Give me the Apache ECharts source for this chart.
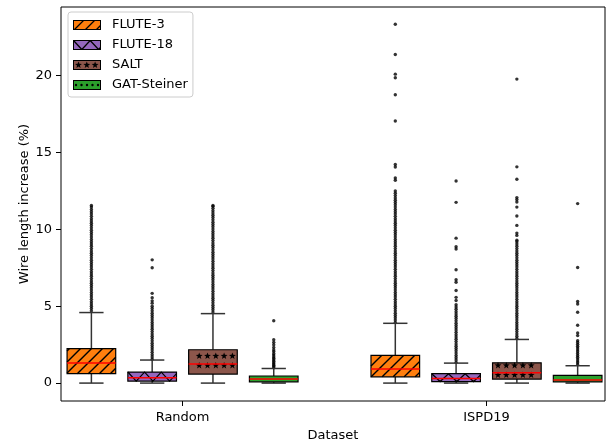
<!DOCTYPE html>
<html><head><meta charset="utf-8">
<script src="https://cdn.jsdelivr.net/npm/echarts@6/dist/echarts.min.js"></script>
<style>html,body{margin:0;padding:0;background:#fff}#c{width:613px;height:445px}</style>
</head><body><div id="c"></div><script>
// ---------------- data ----------------
const datasets = ['Random', 'ISPD19'];
const methods = ['FLUTE-3', 'FLUTE-18', 'SALT', 'GAT-Steiner'];
const yTickValues = [0, 5, 10, 15, 20];

// box statistics per dataset (Random, ISPD19): [lower whisker, Q1, median, Q3, upper whisker]
const flute3Stats  = [[0, 0.61, 1.30, 2.24, 4.59], [0, 0.41, 0.91, 1.80, 3.89]];
const flute18Stats = [[0, 0.13, 0.35, 0.72, 1.50], [0, 0.10, 0.30, 0.61, 1.30]];
const saltStats    = [[0, 0.59, 1.24, 2.17, 4.52], [0, 0.26, 0.67, 1.32, 2.84]];
const gatStats     = [[0, 0.08, 0.26, 0.46, 0.95], [0, 0.08, 0.20, 0.50, 1.13]];

// outliers (fliers)
const flute3RandomFliers = [4.70,4.85,5.00,5.15,5.30,5.45,5.60,5.75,5.90,6.05,6.20,6.35,6.50,6.65,6.80,6.95,7.10,7.25,7.40,7.55,7.70,7.85,8.00,8.15,8.30,8.45,8.60,8.75,8.90,9.05,9.20,9.35,9.50,9.65,9.80,9.95,10.10,10.25,10.40,10.55,10.70,10.85,11.00,11.15,11.30,11.45,11.56];
const flute18RandomFliers = [1.55,1.70,1.85,2.00,2.15,2.30,2.45,2.60,2.75,2.90,3.05,3.20,3.35,3.50,3.65,3.80,3.95,4.10,4.25,4.40,4.55,4.70,4.85,5.00,5.20,5.35,5.55,5.84,7.50,8.02];
const saltRandomFliers = [4.62,4.77,4.92,5.07,5.22,5.37,5.52,5.67,5.82,5.97,6.12,6.27,6.42,6.57,6.72,6.87,7.02,7.17,7.32,7.47,7.62,7.77,7.92,8.07,8.22,8.37,8.52,8.67,8.82,8.97,9.12,9.27,9.42,9.57,9.72,9.87,10.02,10.17,10.32,10.47,10.62,10.77,10.92,11.07,11.22,11.37,11.50,11.56];
const gatRandomFliers = [1.00,1.08,1.16,1.25,1.33,1.42,1.52,1.62,1.72,1.82,1.92,2.05,2.15,2.32,2.50,2.65,2.82,4.06];

const flute3IspdFliers = [3.95,4.10,4.25,4.40,4.55,4.70,4.85,5.00,5.15,5.30,5.45,5.60,5.75,5.90,6.05,6.20,6.35,6.50,6.65,6.80,6.95,7.10,7.25,7.40,7.55,7.70,7.85,8.00,8.15,8.30,8.45,8.60,8.75,8.90,9.05,9.20,9.35,9.50,9.65,9.80,9.95,10.10,10.25,10.40,10.55,10.70,10.85,11.00,11.15,11.30,11.45,11.60,11.75,11.90,12.05,12.20,12.35,12.50,13.20,13.35,14.06,14.22,17.05,18.76,19.87,20.10,21.38,23.35];
const flute18IspdFliers = [1.35,1.50,1.65,1.80,1.95,2.10,2.25,2.40,2.55,2.70,2.85,3.00,3.15,3.30,3.45,3.60,3.75,3.90,4.05,4.20,4.35,4.50,4.65,4.80,4.95,5.10,5.37,5.58,6.02,6.56,6.72,7.37,8.72,8.87,9.43,11.76,13.15];
const saltIspdFliers = [2.90,3.05,3.20,3.35,3.50,3.65,3.80,3.95,4.10,4.25,4.40,4.55,4.70,4.85,5.00,5.15,5.30,5.45,5.60,5.75,5.90,6.05,6.20,6.35,6.50,6.65,6.80,6.95,7.10,7.25,7.40,7.55,7.70,7.85,8.00,8.15,8.30,8.45,8.60,8.75,8.90,9.05,9.20,9.30,9.61,9.76,10.26,10.87,11.45,11.78,11.94,12.07,13.26,14.07,19.78];
const gatIspdFliers = [1.20,1.32,1.44,1.56,1.68,1.80,1.92,2.04,2.16,2.28,2.40,2.52,2.64,2.76,3.09,3.26,3.76,4.61,5.15,5.31,7.52,11.68];

// ---------------- styling / layout ----------------
const allStats = [flute3Stats, flute18Stats, saltStats, gatStats];
const allFliers = [
  [flute3RandomFliers, flute3IspdFliers],
  [flute18RandomFliers, flute18IspdFliers],
  [saltRandomFliers, saltIspdFliers],
  [gatRandomFliers, gatIspdFliers]
];
const colors = ['#ff7f0e', '#9467bd', '#8c564b', '#2ca02c'];
const hatches = ['diag', 'zigzag', 'stars', 'dots'];
const offsets = [-0.3, -0.1, 0.1, 0.3];
const boxWidth = 0.16;

function starPoints(cx, cy, R, r) {
  const pts = [];
  for (let i = 0; i < 10; i++) {
    const a = -Math.PI / 2 + i * Math.PI / 5;
    const rr = i % 2 === 0 ? R : r;
    pts.push([cx + rr * Math.cos(a), cy + rr * Math.sin(a)]);
  }
  return pts;
}

// hatch primitives inside rectangle [x0,x1]x[y0,y1]; (ox, oy) = grid origin
function hatchPrims(kind, x0, y0, x1, y1, ox, oy) {
  const p = [];
  if (kind === 'diag') {
    const S = 11;
    for (let k = Math.ceil((x0 + y0) / S); k * S <= x1 + y1; k++) {
      const c = k * S;
      const xa = Math.max(x0, c - y1), xb = Math.min(x1, c - y0);
      if (xb > xa) p.push({t: 'line', a: [xa, c - xa], b: [xb, c - xb]});
    }
  } else if (kind === 'zigzag') {
    const H = 8.35;
    const pts = [];
    let j = 0;
    while (x0 + j * H <= x1) { pts.push([x0 + j * H, j % 2 ? y1 : y0]); j++; }
    const last = pts[pts.length - 1];
    if (last[0] < x1) {
      const yn = j % 2 ? y1 : y0;
      pts.push([x1, last[1] + (yn - last[1]) * (x1 - last[0]) / H]);
    }
    p.push({t: 'poly', pts: pts});
  } else if (kind === 'stars') {
    const SX = 8.3, SY = 9.5;
    for (let ky = Math.ceil((y0 + 2 - oy) / SY); oy + ky * SY <= y1 - 2; ky++) {
      const cy = oy + ky * SY;
      for (let kx = Math.ceil((x0 + 2.5 - ox) / SX); ox + kx * SX <= x1 - 2.5; kx++) {
        p.push({t: 'star', pts: starPoints(ox + kx * SX, cy, 3.6, 1.5)});
      }
    }
  } else if (kind === 'dots') {
    const SX = 5.5, SY = 11;
    for (let ky = Math.ceil((y0 + 0.8 - oy) / SY); oy + ky * SY <= y1 - 0.8; ky++) {
      const cy = oy + ky * SY;
      for (let kx = Math.ceil((x0 + 1.5 - ox) / SX); ox + kx * SX <= x1 - 1.5; kx++) {
        p.push({t: 'dot', c: [ox + kx * SX, cy]});
      }
    }
  }
  return p;
}
const hatchOriginY = {diag: 0, zigzag: 0, stars: 365.5, dots: 381.5};

function primsToElements(prims) {
  return prims.map(q => {
    if (q.t === 'line') return {type: 'line', shape: {x1: q.a[0], y1: q.a[1], x2: q.b[0], y2: q.b[1]}, style: {stroke: '#000', lineWidth: 1.4}};
    if (q.t === 'poly') return {type: 'polyline', shape: {points: q.pts}, style: {stroke: '#000', fill: null, lineWidth: 1.2}};
    if (q.t === 'star') return {type: 'polygon', shape: {points: q.pts}, style: {fill: '#000'}};
    return {type: 'circle', shape: {cx: q.c[0], cy: q.c[1], r: 1.2}, style: {fill: '#000'}};
  });
}

function legendIcon(mi) {
  const cv = document.createElement('canvas');
  cv.width = 34; cv.height = 10;
  const ctx = cv.getContext('2d');
  ctx.fillStyle = colors[mi];
  ctx.fillRect(0, 0, 28, 10);
  const ox = {diag: 0, zigzag: 0, stars: 5.5, dots: 3}[hatches[mi]];
  const oy = {diag: 0, zigzag: 0, stars: 5, dots: 5}[hatches[mi]];
  const prims = hatchPrims(hatches[mi], 0.5, 0.5, 27.5, 9.5, ox, oy);
  ctx.strokeStyle = '#000'; ctx.fillStyle = '#000'; ctx.lineWidth = 1.3;
  prims.forEach(q => {
    ctx.beginPath();
    if (q.t === 'line') { ctx.moveTo(q.a[0], q.a[1]); ctx.lineTo(q.b[0], q.b[1]); ctx.stroke(); }
    else if (q.t === 'poly') { q.pts.forEach((pt, i) => i ? ctx.lineTo(pt[0], pt[1]) : ctx.moveTo(pt[0], pt[1])); ctx.stroke(); }
    else if (q.t === 'star') { q.pts.forEach((pt, i) => i ? ctx.lineTo(pt[0], pt[1]) : ctx.moveTo(pt[0], pt[1])); ctx.closePath(); ctx.fill(); }
    else { ctx.arc(q.c[0], q.c[1], 1.2, 0, Math.PI * 2); ctx.fill(); }
  });
  ctx.lineWidth = 1;
  ctx.strokeStyle = '#000';
  ctx.strokeRect(0.5, 0.5, 27, 9);
  return 'image://' + cv.toDataURL();
}

function makeRenderItem(mi) {
  return function (params, api) {
    const x = api.value(0);
    const pLow = api.coord([x, api.value(1)]);
    const pQ1 = api.coord([x, api.value(2)]);
    const pMed = api.coord([x, api.value(3)]);
    const pQ3 = api.coord([x, api.value(4)]);
    const pHigh = api.coord([x, api.value(5)]);
    const half = api.size([boxWidth, 0])[0] / 2;
    const cx = pMed[0];
    const wl = {stroke: '#333', lineWidth: 1.5};
    const x0 = cx - half, x1 = cx + half, y0 = pQ3[1], y1 = pQ1[1];
    const children = [
      {type: 'line', shape: {x1: cx, y1: pQ1[1], x2: cx, y2: pLow[1]}, style: wl},
      {type: 'line', shape: {x1: cx, y1: pQ3[1], x2: cx, y2: pHigh[1]}, style: wl},
      {type: 'line', shape: {x1: cx - half / 2, y1: pLow[1], x2: cx + half / 2, y2: pLow[1]}, style: wl},
      {type: 'line', shape: {x1: cx - half / 2, y1: pHigh[1], x2: cx + half / 2, y2: pHigh[1]}, style: wl},
      {type: 'rect', shape: {x: x0, y: y0, width: x1 - x0, height: y1 - y0}, style: {fill: colors[mi]}}
    ].concat(primsToElements(hatchPrims(hatches[mi], x0, y0, x1, y1, 0, hatchOriginY[hatches[mi]])))
     .concat([
      {type: 'rect', shape: {x: x0, y: y0, width: x1 - x0, height: y1 - y0}, style: {fill: null, stroke: '#000', lineWidth: 1.2}},
      {type: 'line', shape: {x1: x0, y1: pMed[1], x2: x1, y2: pMed[1]}, style: {stroke: '#ff0000', lineWidth: 1.5}}
    ]);
    return {type: 'group', children: children};
  };
}

const series = [];
methods.forEach((m, mi) => {
  series.push({
    name: m,
    type: 'custom',
    renderItem: makeRenderItem(mi),
    encode: {x: 0, y: [1, 2, 3, 4, 5]},
    data: datasets.map((d, di) => [di + offsets[mi]].concat(allStats[mi][di])),
    z: 3,
    silent: true
  });
  const pts = [];
  datasets.forEach((d, di) => allFliers[mi][di].forEach(v => pts.push([di + offsets[mi], v])));
  series.push({
    name: m + ' outliers',
    type: 'scatter',
    symbol: 'circle',
    symbolSize: 3.4,
    itemStyle: {color: '#000'},
    data: pts,
    z: 2,
    silent: true
  });
});

const chart = echarts.init(document.getElementById('c'), null, {renderer: 'canvas'});
chart.setOption({
  animation: false,
  textStyle: {fontFamily: 'DejaVu Sans', color: '#000'},
  grid: {left: 61, right: 8, top: 7, bottom: 44, show: true, borderColor: '#000', borderWidth: 1, backgroundColor: 'transparent', containLabel: false, outerBoundsMode: 'none'},
  legend: {
    orient: 'vertical',
    left: 68, top: 12,
    padding: [6, 5, 5, 5],
    itemGap: 6,
    itemWidth: 34, itemHeight: 10,
    backgroundColor: 'rgba(255,255,255,0.8)',
    borderColor: '#cccccc', borderWidth: 1, borderRadius: 3,
    textStyle: {fontSize: 13, color: '#000', fontFamily: 'DejaVu Sans', lineHeight: 14},
    data: methods.map((m, mi) => ({name: m, icon: legendIcon(mi)}))
  },
  xAxis: {
    type: 'value', min: -0.4, max: 1.39,
    name: 'Dataset', nameLocation: 'middle', nameGap: 28, nameMoveOverlap: false,
    nameTextStyle: {fontSize: 13, color: '#000', fontFamily: 'DejaVu Sans'},
    axisLine: {show: false, onZero: false},
    axisTick: {show: true, length: 5, lineStyle: {color: '#000'}, customValues: [0, 1]},
    axisLabel: {fontSize: 13, color: '#000', margin: 10, customValues: [0, 1], formatter: v => datasets[Math.round(v)]},
    splitLine: {show: false}
  },
  yAxis: {
    type: 'value', min: -1.165, max: 24.47,
    name: 'Wire length increase (%)', nameLocation: 'middle', nameGap: 30, nameMoveOverlap: false,
    nameTextStyle: {fontSize: 13, color: '#000', fontFamily: 'DejaVu Sans'},
    axisLine: {show: false, onZero: false},
    axisTick: {show: true, length: 5, lineStyle: {color: '#000'}, customValues: yTickValues},
    axisLabel: {fontSize: 13, color: '#000', margin: 9, customValues: yTickValues},
    splitLine: {show: false}
  },
  series: series
});
</script></body></html>
